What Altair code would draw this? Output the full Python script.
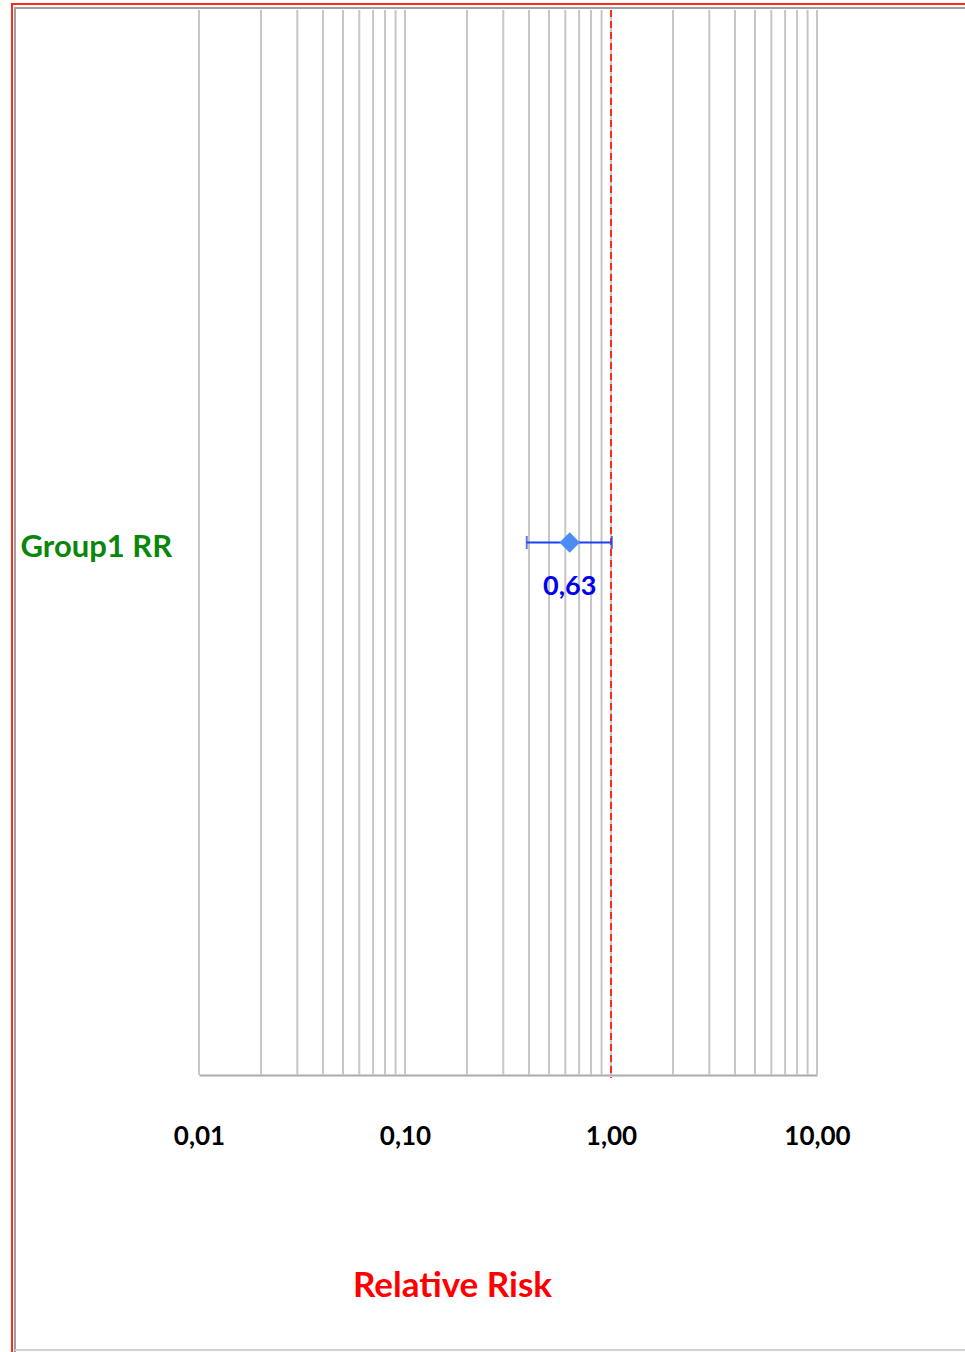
import altair as alt
import pandas as pd

# Data
groups = ["Group1 RR"]
rr = [0.63]
ci_low = [0.39]
ci_high = [1.01]
rr_labels = ["0,63"]
axis_ticks = [0.01, 0.1, 1, 10]
grid_values = [m * 10 ** e for e in (-2, -1, 0) for m in range(1, 10)] + [10]
ref_value = [1.0]

df = pd.DataFrame({"group": groups, "rr": rr, "lo": ci_low, "hi": ci_high, "lab": rr_labels})
grid_df = pd.DataFrame({"g": grid_values})
ref_df = pd.DataFrame({"r": ref_value})

FONT = "Lato"
xscale = alt.Scale(type="log", domain=[0.01, 10], nice=False)
yscale = alt.Scale(domain=groups)

grid = alt.Chart(grid_df).mark_rule(color="#c6c6c6", strokeWidth=2).encode(
    x=alt.X("g:Q", scale=xscale,
            axis=alt.Axis(values=axis_ticks, grid=False, domain=True, domainColor="#aaaaaa",
                          domainWidth=2, ticks=False, labelPadding=48, labelFontSize=26,
                          labelFont=FONT, labelFontWeight="bold", labelColor="black",
                          labelFlush=False, labelOverlap=False,
                          labelExpr="replace(format(datum.value, '.2f'), '.', ',')",
                          title="Relative Risk", titleFont=FONT, titleFontSize=35,
                          titleFontWeight="bold", titleColor="#ff0000", titlePadding=119,
                          titleX=253, titleAlign="center")),
)

ref = alt.Chart(ref_df).mark_rule(color="#ff2a1a", strokeWidth=2, strokeDash=[7, 4]).encode(
    x=alt.X("r:Q", scale=xscale),
    y=alt.value(0), y2=alt.value(1068),
)

err = alt.Chart(df).mark_rule(color="#1f3ff0", strokeWidth=2).encode(
    x=alt.X("lo:Q", scale=xscale), x2="hi:Q",
    y=alt.Y("group:N", scale=yscale,
            axis=alt.Axis(title=None, domain=False, ticks=False, grid=False, labelAlign="left",
                          labelPadding=179, labelFont=FONT, labelFontSize=31,
                          labelFontWeight="bold", labelColor="#0a860a", labelBaseline="middle",
                          labelOffset=5)),
)

cap_lo = alt.Chart(df).mark_tick(color="#1f3ff0", thickness=2, size=13, orient="vertical").encode(
    x=alt.X("lo:Q", scale=xscale), y=alt.Y("group:N", scale=yscale))
cap_hi = alt.Chart(df).mark_tick(color="#1f3ff0", thickness=2, size=13, orient="vertical").encode(
    x=alt.X("hi:Q", scale=xscale), y=alt.Y("group:N", scale=yscale))

pt = alt.Chart(df).mark_point(shape="diamond", filled=True, color="#4d8cf5", opacity=1, size=420).encode(
    x=alt.X("rr:Q", scale=xscale), y=alt.Y("group:N", scale=yscale))

txt = alt.Chart(df).mark_text(color="#0000ee", font=FONT, fontSize=27, fontWeight="bold", dy=44).encode(
    x=alt.X("rr:Q", scale=xscale), y=alt.Y("group:N", scale=yscale), text="lab:N")

# frame decoration
frame_red_v = alt.Chart(df).mark_rule(color="#ff2a1a", strokeWidth=2).encode(
    x=alt.value(-187), y=alt.value(-6), y2=alt.value(1342))
frame_red_h = alt.Chart(df).mark_rule(color="#ff2a1a", strokeWidth=2).encode(
    x=alt.value(-188), x2=alt.value(780), y=alt.value(-6))
frame_gray_v = alt.Chart(df).mark_rule(color="#a0a0a0", strokeWidth=2).encode(
    x=alt.value(-184), y=alt.value(-2), y2=alt.value(1342))
frame_gray_h = alt.Chart(df).mark_rule(color="#a0a0a0", strokeWidth=2).encode(
    x=alt.value(-185), x2=alt.value(780), y=alt.value(-2))
frame_gray_b = alt.Chart(df).mark_rule(color="#d0d0d0", strokeWidth=2).encode(
    x=alt.value(-184), x2=alt.value(780), y=alt.value(1340))

chart = alt.layer(grid, ref, err, cap_lo, cap_hi, pt, txt,
                  frame_red_v, frame_red_h, frame_gray_v, frame_gray_h, frame_gray_b).properties(
    width=618, height=1065,
    autosize=alt.AutoSizeParams(type="none"),
    padding={"left": 199, "top": 10, "right": 148, "bottom": 277},
    background="white",
).configure_view(stroke=None)

chart.save("out.html", embed_options={"renderer": "svg", "actions": False})
